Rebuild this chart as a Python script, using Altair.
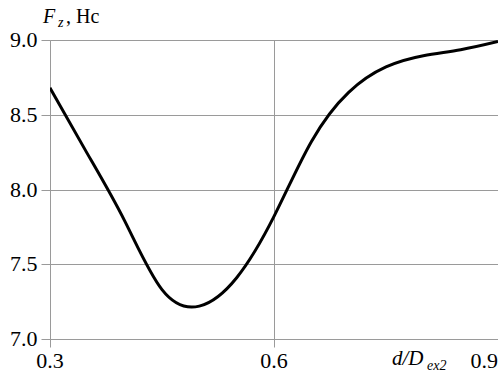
import altair as alt
import pandas as pd

# Curve data
x_vals = [0.30, 0.35, 0.40, 0.45, 0.50, 0.55, 0.60, 0.65, 0.70, 0.75, 0.80, 0.85, 0.90]
y_vals = [8.68, 8.24, 7.79, 7.33, 7.22, 7.41, 7.82, 8.32, 8.65, 8.82, 8.895, 8.935, 8.99]
x_ticks = [0.3, 0.6, 0.9]
y_ticks = [7.0, 7.5, 8.0, 8.5, 9.0]

df = pd.DataFrame({"x": x_vals, "y": y_vals})
xt = pd.DataFrame({"x": x_ticks})
yt = pd.DataFrame({"y": y_ticks})

FONT = "Times New Roman"
GRID = "#9a9a9a"

xscale = alt.Scale(domain=[0.3, 0.9], nice=False, zero=False)
yscale = alt.Scale(domain=[7.0, 9.0], nice=False, zero=False)

line = alt.Chart(df).mark_line(
    color="black", strokeWidth=3, interpolate="natural", clip=True
).encode(
    x=alt.X("x:Q", scale=xscale,
            axis=alt.Axis(values=x_ticks, title=None, grid=True, labels=False,
                          gridColor=GRID, domainColor=GRID, tickColor=GRID,
                          tickSize=8)),
    y=alt.Y("y:Q", scale=yscale,
            axis=alt.Axis(values=y_ticks, title=None, grid=True, labels=False,
                          gridColor=GRID, domainColor=GRID, tickColor=GRID,
                          tickSize=9)),
)

# tick labels drawn as text through the same scales
xlab_c = alt.Chart(xt).transform_filter("datum.x < 0.85").mark_text(
    font=FONT, fontSize=22, align="center"
).encode(x=alt.X("x:Q", scale=xscale), y=alt.value(321),
         text=alt.Text("x:Q", format=".1f"))
xlab_r = alt.Chart(xt).transform_filter("datum.x >= 0.85").mark_text(
    font=FONT, fontSize=22, align="right"
).encode(x=alt.X("x:Q", scale=xscale), y=alt.value(321),
         text=alt.Text("x:Q", format=".1f"))
ylab = alt.Chart(yt).mark_text(
    font=FONT, fontSize=22, align="right"
).encode(x=alt.value(-12.5), y=alt.Y("y:Q", scale=yscale),
         text=alt.Text("y:Q", format=".1f"))

one = alt.Data(values=[{"k": 1}])

def label(text, x, y, size, italic=True):
    if italic:
        mk = alt.Chart(one).mark_text(text=text, font=FONT, fontSize=size,
                                      fontStyle="italic", align="left")
    else:
        mk = alt.Chart(one).mark_text(text=text, font=FONT, fontSize=size,
                                      align="left")
    return mk.encode(x=alt.value(x), y=alt.value(y))

titles = [
    label("F", -7, -23, 20),
    label("z", 8, -17.5, 14),
    label(", Нс", 16, -23, 20, italic=False),
    label("d/D", 342, 319, 21),
    label("ex2", 377, 326, 14),
]

chart = alt.layer(line, xlab_c, xlab_r, ylab, *titles).properties(
    width=448, height=299,
    autosize=alt.AutoSizeParams(type="none"),
    padding={"left": 50, "top": 40, "right": 0, "bottom": 35},
).configure_view(strokeWidth=0)

chart.save("out.html", embed_options={"renderer": "svg", "actions": False})
